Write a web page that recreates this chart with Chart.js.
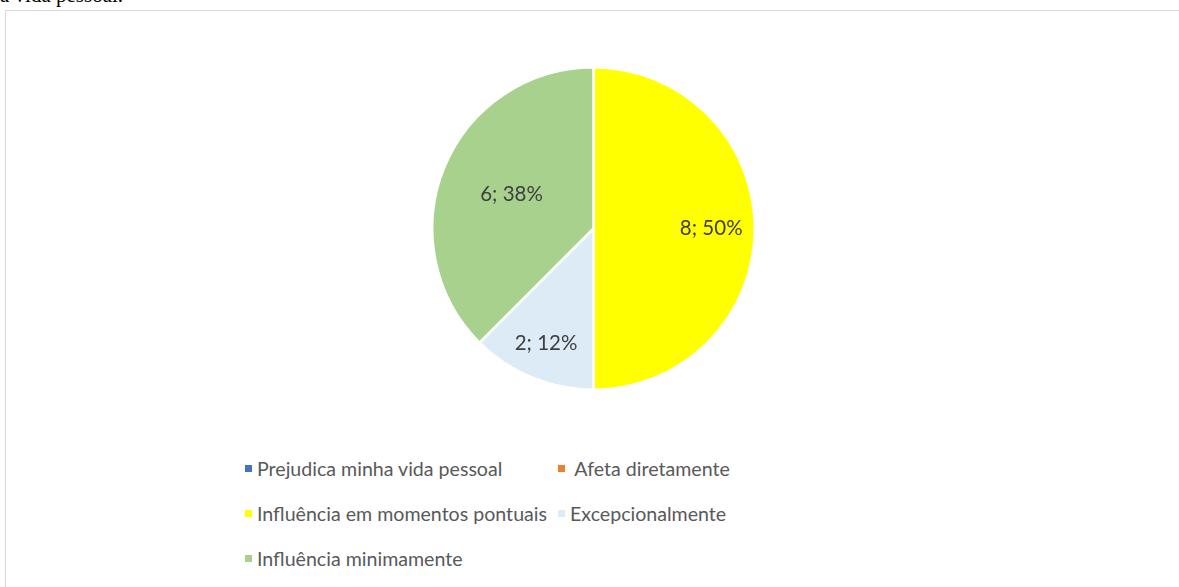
<!DOCTYPE html>
<html>
<head>
<meta charset="utf-8">
<script src="https://cdn.jsdelivr.net/npm/chart.js@4/dist/chart.umd.min.js"></script>
<style>
  html, body { margin: 0; padding: 0; background: #fff; overflow: hidden; }
  body { width: 1179px; height: 587px; position: relative; }
  #caption { position: absolute; left: 0; top: -17px; font: 21px "Liberation Serif", "Times New Roman", serif; color: #000; white-space: nowrap; }
  #frame { position: absolute; left: 5px; top: 10px; width: 1200px; height: 600px; border: 1px solid #d9d9d9; box-sizing: border-box; }
  #pieBox { position: absolute; left: 423px; top: 58px; width: 341px; height: 341px; }
  #legend { position: absolute; left: 245px; top: 446px; display: grid; grid-template-columns: 313px auto; row-gap: 0; font: 19.6px Lato, "Open Sans", sans-serif; color: #595959; }
  #legend .item { display: flex; align-items: center; height: 45px; white-space: pre; }
  #legend .box { width: 7px; height: 7px; margin-right: 5px; flex: none; }
</style>
</head>
<body>
<div id="caption">a vida pessoal.</div>
<div id="frame"></div>
<div id="pieBox"><canvas id="chart"></canvas></div>
<div id="legend"></div>
<script>
// categories, values and colours
const categories = [
  "Prejudica minha vida pessoal",
  " Afeta diretamente",
  "Influência em momentos pontuais",
  "Excepcionalmente",
  "Influência minimamente",
]
const counts = [0, 0, 8, 2, 6]
const colors = ["#4472C4", "#ED7D31", "#FFFF00", "#DDEBF7", "#A9D18E"]

// round half to even, so 12.5 -> 12 and 37.5 -> 38 like the original
const roundEven = (v) => {
  const f = Math.floor(v)
  const d = v - f
  if (Math.abs(d - 0.5) > 1e-9) return Math.round(v)
  return f % 2 === 0 ? f : f + 1
}

// draws "value; pct%" inside each non-empty slice
const sliceLabels = {
  id: "sliceLabels",
  afterDatasetsDraw(chart, args, opts) {
    const { ctx } = chart
    const meta = chart.getDatasetMeta(0)
    const data = chart.data.datasets[0].data
    const total = data.reduce((s, v) => s + v, 0)
    ctx.save()
    ctx.font = opts.font
    ctx.fillStyle = opts.color
    ctx.textAlign = "center"
    ctx.textBaseline = "middle"
    meta.data.forEach((arc, i) => {
      if (!data[i]) return
      const mid = (arc.startAngle + arc.endAngle) / 2
      const r = arc.outerRadius * (opts.radius[i] ?? 0.7)
      const x = arc.x + Math.cos(mid) * r
      const y = arc.y + Math.sin(mid) * r
      ctx.fillText(data[i] + "; " + roundEven(data[i] / total * 100) + "%", x, y)
    })
    ctx.restore()
  },
}

const chart = new Chart(document.getElementById("chart"), {
  type: "pie",
  data: {
    labels: categories,
    datasets: [{
      data: counts,
      backgroundColor: colors,
      borderColor: "#ffffff",
      borderWidth: 2.5,
    }],
  },
  options: {
    responsive: true,
    maintainAspectRatio: false,
    animation: false,
    layout: { padding: 8 },
    plugins: {
      legend: { display: false },
      tooltip: { enabled: false },
      sliceLabels: { font: '20.5px Lato, "Open Sans", sans-serif', color: "#404040", radius: [0.7, 0.7, 0.73, 0.77, 0.55] },
    },
  },
  plugins: [sliceLabels],
})

// two-column legend like the original
const legend = document.getElementById("legend")
categories.forEach((name, i) => {
  const item = document.createElement("div")
  item.className = "item"
  const box = document.createElement("span")
  box.className = "box"
  box.style.background = colors[i]
  item.appendChild(box)
  item.appendChild(document.createTextNode(name))
  legend.appendChild(item)
})
</script>
</body>
</html>
